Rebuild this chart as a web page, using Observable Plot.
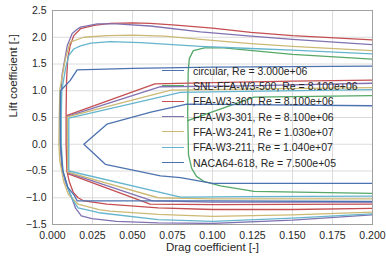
<!DOCTYPE html>
<html><head><meta charset="utf-8">
<script src="https://cdn.jsdelivr.net/npm/d3@7"></script>
<script src="https://cdn.jsdelivr.net/npm/@observablehq/plot@0.6"></script>
<style>
body{margin:0;background:#fff;}
#wrap{position:relative;width:386px;height:256px;font-family:"Liberation Sans",Arial,sans-serif;}
#legend{position:absolute;left:162px;top:63px;font-size:10.5px;color:#262626;}
.row{display:flex;align-items:center;height:15.33px;white-space:nowrap;}
.sw{width:22px;height:0;border-top:1.5px solid;margin-right:9px;}
</style></head>
<body><div id="wrap"><div id="legend"></div></div>
<script>
const seriesNames = ["circular, Re = 3.000e+06","SNL-FFA-W3-500, Re = 8.100e+06","FFA-W3-360, Re = 8.100e+06","FFA-W3-301, Re = 8.100e+06","FFA-W3-241, Re = 1.030e+07","FFA-W3-211, Re = 1.040e+07","NACA64-618, Re = 7.500e+05"];
const seriesColors = ["#4C72B0","#55A868","#C44E52","#8172B2","#CCB974","#64B5CD","#4C72B0"];
const xTicks = [0,0.025,0.05,0.075,0.1,0.125,0.15,0.175,0.2];
const yTicks = [-1.5,-1,-0.5,0,0.5,1,1.5,2,2.5];

// [cd, cl] pairs
const circularPolar = [[0.5,0],[0.6,0]];
const snlMain = [[0.2,-0.92],[0.126,-0.88],[0.105,-0.78],[0.095,-0.7],[0.09,-0.6],[0.087,-0.45],[0.085,-0.2],[0.0845,0.6],[0.0848,1.35],[0.0855,1.6],[0.088,1.75],[0.095,1.8],[0.107,1.8],[0.125,1.75],[0.15,1.68],[0.2,1.59]];
const snlRev = [[0.2,0.91],[0.126,0.88],[0.0845,0.44]];
const ffa360Main = [[0.2,-1.2],[0.15,-1.22],[0.1,-1.22],[0.066,-1.19],[0.034,-1.12],[0.0196,-1.06],[0.016,-1.0],[0.013,-0.9],[0.0105,-0.7],[0.009,-0.5],[0.0085,0],[0.0085,0.6],[0.0088,1.2],[0.0095,1.6],[0.011,1.84],[0.0133,2.03],[0.0175,2.16],[0.026,2.22],[0.036,2.26],[0.05,2.27],[0.061,2.26],[0.075,2.23],[0.1,2.17],[0.124,2.09],[0.15,2.03],[0.2,1.95]];
const ffa360Rev = [[0.2,1.2],[0.15,1.18],[0.1,1.15],[0.064,1.13],[0.0092,0.54],[0.0095,-0.55],[0.061,-1.12],[0.1,-1.13],[0.2,-1.12]];
const ffa301Main = [[0.2,-1.32],[0.15,-1.42],[0.1,-1.48],[0.066,-1.47],[0.04,-1.44],[0.0246,-1.39],[0.018,-1.34],[0.0145,-1.2],[0.012,-1.0],[0.008,-0.7],[0.0058,-0.44],[0.0048,0],[0.005,0.5],[0.0055,1.0],[0.006,1.3],[0.0092,1.84],[0.0123,2.07],[0.0154,2.15],[0.0175,2.19],[0.028,2.25],[0.04,2.25],[0.061,2.21],[0.0925,2.1],[0.124,2.02],[0.15,1.96],[0.2,1.86]];
const ffa301Rev = [[0.2,1.14],[0.12,1.09],[0.0675,1.075],[0.0093,0.52],[0.0095,-0.53],[0.0625,-1.06],[0.1,-1.08],[0.2,-1.08]];
const ffa241Main = [[0.2,-1.27],[0.15,-1.32],[0.1,-1.35],[0.066,-1.31],[0.036,-1.25],[0.029,-1.22],[0.016,-1.12],[0.01,-0.94],[0.007,-0.7],[0.0045,-0.3],[0.004,0],[0.0042,0.5],[0.0046,1.03],[0.0081,1.6],[0.011,1.91],[0.0196,2.0],[0.034,2.03],[0.05,2.04],[0.07,2.02],[0.0925,1.96],[0.124,1.88],[0.15,1.83],[0.2,1.75]];
const ffa241Rev = [[0.2,1.06],[0.12,1.03],[0.074,1.01],[0.0093,0.51],[0.0095,-0.52],[0.066,-1.0],[0.1,-1.02],[0.2,-1.02]];
const ffa211Main = [[0.2,-1.3],[0.15,-1.38],[0.1,-1.44],[0.066,-1.41],[0.029,-1.28],[0.016,-1.19],[0.013,-1.06],[0.01,-0.85],[0.0065,-0.5],[0.0055,0],[0.0055,0.5],[0.0058,1.0],[0.0081,1.41],[0.0102,1.66],[0.0133,1.78],[0.0175,1.84],[0.024,1.89],[0.036,1.92],[0.055,1.9],[0.0925,1.83],[0.124,1.79],[0.15,1.76],[0.2,1.69]];
const ffa211Rev = [[0.2,1.02],[0.12,0.99],[0.08,0.97],[0.0102,0.49],[0.0102,-0.5],[0.08,-0.99],[0.12,-0.98],[0.2,-0.97]];
const nacaMain = [[0.2,-1.07],[0.1,-1.06],[0.0155,-1.06],[0.0135,-0.95],[0.0095,-0.8],[0.0065,-0.5],[0.005,0],[0.0048,0.5],[0.005,1.0],[0.011,1.19],[0.0154,1.39],[0.05,1.42],[0.1,1.44],[0.2,1.46]];
const nacaRev = [[0.2,0.72],[0.084,0.75],[0.0615,0.6],[0.034,0.375],[0.0196,0],[0.033,-0.375],[0.0675,-0.59],[0.08,-0.625],[0.1,-0.73],[0.2,-0.73]];

const segments = [
  [0, circularPolar],[1, snlMain],[1, snlRev],[2, ffa360Main],[2, ffa360Rev],
  [3, ffa301Main],[3, ffa301Rev],[4, ffa241Main],[4, ffa241Rev],
  [5, ffa211Main],[5, ffa211Rev],[6, nacaMain],[6, nacaRev]
];
const rows = [];
segments.forEach(([s, pts], i) => pts.forEach(([cd, cl]) => rows.push({series: seriesNames[s], seg: i, cd, cl})));

const font = '"Liberation Sans", Arial, sans-serif';
const chart = Plot.plot({
  width: 386, height: 256,
  marginLeft: 52, marginRight: 14, marginTop: 10, marginBottom: 32,
  style: {fontFamily: font, fontSize: "10.5px", color: "#262626", background: "#fff"},
  x: {domain: [0, 0.2]},
  y: {domain: [-1.5, 2.5]},
  color: {domain: seriesNames, range: seriesColors},
  marks: [
    Plot.gridX(xTicks, {stroke: "#dcdcdc", strokeOpacity: 1, strokeWidth: 1}),
    Plot.gridY(yTicks, {stroke: "#dcdcdc", strokeOpacity: 1, strokeWidth: 1}),
    Plot.line(rows, {x: "cd", y: "cl", z: "seg", stroke: "series", strokeWidth: 1.3, clip: true, curve: "linear"}),
    Plot.frame({stroke: "#a0a0a0", strokeWidth: 1}),
    Plot.axisX(xTicks, {tickSize: 0, tickPadding: 7, tickFormat: d3.format(".3f"), label: null}),
    Plot.axisY(yTicks, {tickSize: 0, tickPadding: 6, tickFormat: d => d3.format(".1f")(d).replace("-", "\u2212"), label: null}),
    Plot.text(["Drag coefficient [-]"], {frameAnchor: "bottom", lineAnchor: "middle", dy: 23, text: d => d, fontSize: 11.5, fill: "#262626"}),
    Plot.text(["Lift coefficient [-]"], {frameAnchor: "left", lineAnchor: "middle", dx: -39, rotate: -90, text: d => d, fontSize: 11.5, fill: "#262626"})
  ]
});
const wrap = document.getElementById("wrap");
wrap.insertBefore(chart, wrap.firstChild);
const leg = document.getElementById("legend");
seriesNames.forEach((n, i) => {
  const r = document.createElement("div"); r.className = "row";
  const s = document.createElement("div"); s.className = "sw"; s.style.borderTopColor = seriesColors[i];
  const t = document.createElement("span"); t.textContent = n;
  r.appendChild(s); r.appendChild(t); leg.appendChild(r);
});
</script></body></html>
